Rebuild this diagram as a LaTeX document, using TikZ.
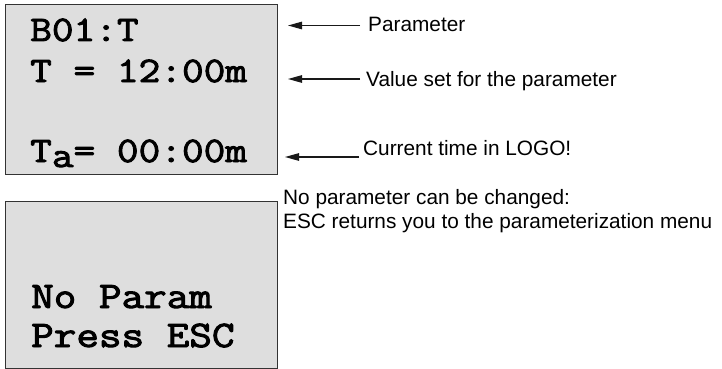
\documentclass[tikz,border=0pt]{standalone}
\usepackage{fontspec}
\setmainfont{Liberation Sans}
\newfontfamily\lcdfont{Latin Modern Mono}[FakeStretch=1.17,FakeBold=2.6]
\usetikzlibrary{arrows.meta}
\tikzset{
  lcd/.style={draw=black!80, line width=0.9pt, fill=black!13},
  lcdtext/.style={anchor=base west, inner sep=0pt, font=\lcdfont\fontsize{36}{36}\selectfont},
  lcdbig/.style={lcdtext, font=\lcdfont\fontsize{37.5}{37.5}\selectfont},
  note/.style={anchor=base west, inner sep=0pt, font=\fontsize{20.8}{24}\selectfont, align=left},
  pointer/.style={draw=black!90, line width=1.1pt, -{Triangle[length=14pt,width=7.5pt]}}
}
\begin{document}
\begin{tikzpicture}[x=1pt,y=-1pt]
\useasboundingbox (0,0) rectangle (722,369);
% display 1
\path[lcd] (5,4) rectangle (277,174);
\node[lcdtext] (l1) at (30,41) {B01:T};
\node[lcdtext] (l2) at (30,82) {T = 12:00m};
\node[lcdtext] (l3) at (30,162) {T\raisebox{-5pt}{a}= 00:00m};
% display 2
\path[lcd] (5,201) rectangle (277,368);
\node[lcdbig] (l4) at (31,308) {No Param};
\node[lcdbig] (l5) at (31,347) {Press ESC};
% notes
\node[note] (n1) at (368,32) {Parameter};
\node[note] (n2) at (366,86) {Value set for the parameter};
\node[note] (n3) at (363,155) {Current time in LOGO!};
\node[note] (n4) at (283,228) {No parameter can be changed:\\ESC returns you to the parameterization menu};
% pointers
\coordinate (s1) at (360,25.5);
\coordinate (e1) at (288,25.5);
\coordinate (s2) at (360,79);
\coordinate (e2) at (288,79);
\coordinate (s3) at (359,157);
\coordinate (e3) at (285,157);
\draw[pointer] (s1) -- (e1);
\draw[pointer] (s2) -- (e2);
\draw[pointer] (s3) -- (e3);
\end{tikzpicture}
\end{document}
